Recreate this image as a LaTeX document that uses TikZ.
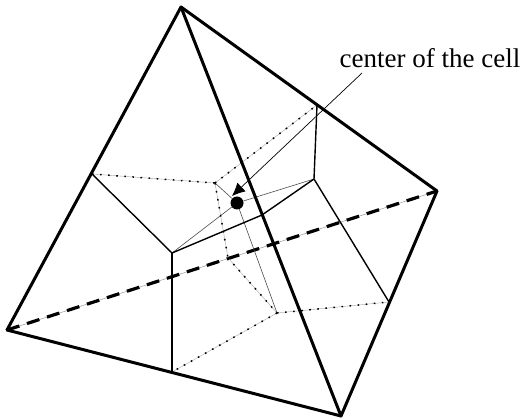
\documentclass[tikz,border=0pt]{standalone}
\usepackage{fontspec}
\usetikzlibrary{arrows.meta}
\setmainfont{Liberation Serif}
\begin{document}
\begin{tikzpicture}[x=1pt,y=-1pt,
  edgeline/.style={line width=3pt,black,line cap=round},
  backedge/.style={line width=0.5pt,gray!80,postaction={draw=black,line width=3.2pt,dash pattern=on 13pt off 8pt}},
  cellline/.style={line width=1.4pt,black},
  thinline/.style={line width=0.6pt,black!70},
  dotline/.style={line width=0.4pt,gray!70,postaction={draw=black,line width=1.5pt,dash pattern=on 1.6pt off 6.5pt}},
  pointer/.style={line width=0.7pt,black,-{Latex[length=13pt,width=12pt]}},
  label/.style={inner sep=0pt,font=\fontsize{27pt}{30pt}\selectfont,anchor=base west}]
\useasboundingbox (0,0) rectangle (524,419);
\coordinate (A) at (181,7);
\coordinate (B) at (437,191);
\coordinate (C) at (7,330);
\coordinate (D) at (341,416);
\coordinate (mAC) at (92,174);
\coordinate (mAB) at (317,105);
\coordinate (mCD) at (172,372);
\coordinate (mBD) at (389,302);
\coordinate (mAD) at (262,215);
\coordinate (mCB) at (228,258);
\coordinate (fL) at (172,253);
\coordinate (fR) at (314,179);
\coordinate (fT) at (215,183);
\coordinate (fB) at (277,313);
\coordinate (tail) at (362,73);
\coordinate (head) at (232,196);
\node[circle,fill=black,inner sep=0pt,minimum size=13pt] (cen) at (237,203) {};
\node[label] (lab) at (339.5,68) {center of the cell};
% back edge
\draw[backedge] (C) -- (B);
% thin lines from the centre
\draw[thinline] (cen) -- (fL);
\draw[thinline] (cen) -- (fR);
\draw[thinline] (cen) -- (fT);
\draw[thinline] (cen) -- (fB);
% hidden cell lines
\draw[dotline] (mAC) -- (fT);
\draw[dotline] (fT) -- (mAB);
\draw[dotline] (fT) -- (mCB);
\draw[dotline] (mCB) -- (fB);
\draw[dotline] (fB) -- (mBD);
\draw[dotline] (fB) -- (mCD);
% visible cell lines
\draw[cellline] (mAC) -- (fL);
\draw[cellline] (fL) -- (mCD);
\draw[cellline] (fL) -- (mAD) -- (fR);
\draw[cellline] (fR) -- (mAB);
\draw[cellline] (fR) -- (mBD);
% tetrahedron
\draw[edgeline] (A) -- (C);
\draw[edgeline] (A) -- (B);
\draw[edgeline] (A) -- (D);
\draw[edgeline] (C) -- (D);
\draw[edgeline] (B) -- (D);
% pointer
\draw[pointer] (tail) -- (head);
\end{tikzpicture}
\end{document}
